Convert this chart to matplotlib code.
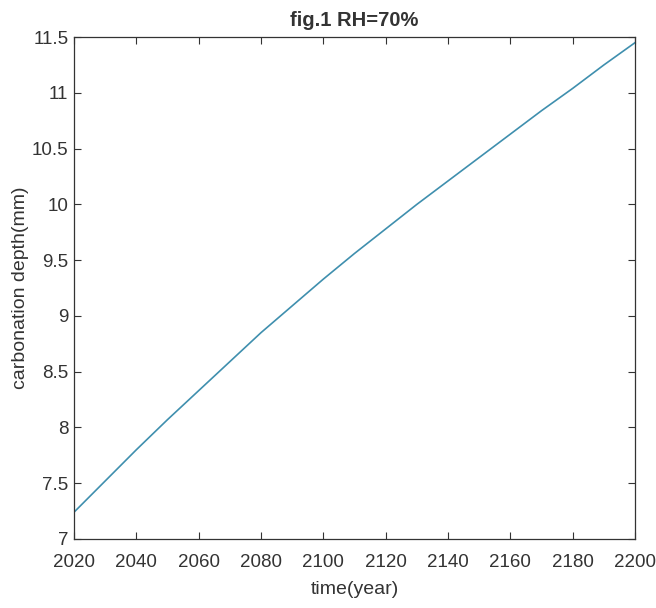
import matplotlib
matplotlib.use('Agg')
import matplotlib.pyplot as plt

# values
years = [2020, 2030, 2040, 2050, 2060, 2070, 2080, 2090, 2100, 2110,
         2120, 2130, 2140, 2150, 2160, 2170, 2180, 2190, 2200]
depth = [7.24, 7.52, 7.80, 8.07, 8.33, 8.59, 8.85, 9.09, 9.33, 9.56,
         9.78, 10.00, 10.21, 10.42, 10.63, 10.84, 11.04, 11.25, 11.45]

x_ticks = list(range(2020, 2201, 20))
y_ticks = [7, 7.5, 8, 8.5, 9, 9.5, 10, 10.5, 11, 11.5]
y_labels = ['7', '7.5', '8', '8.5', '9', '9.5', '10', '10.5', '11', '11.5']

plt.rcParams['font.family'] = ['Liberation Sans', 'DejaVu Sans']
txt = '#333333'

fig = plt.figure(figsize=(6.56, 6.08), dpi=100)
ax = fig.add_axes([0.1128, 0.1135, 0.8552, 0.8255])

ax.plot(years, depth, color='#3f8fae', linewidth=1.2)

ax.set_xlim(2020, 2200)
ax.set_ylim(7, 11.5)
ax.set_xticks(x_ticks)
ax.set_yticks(y_ticks)
ax.set_yticklabels(y_labels)

ax.tick_params(direction='in', top=True, right=True, length=5, width=0.8,
               labelsize=13.5, colors=txt)
ax.tick_params(axis='x', pad=11)
ax.tick_params(axis='y', pad=4)
for s in ax.spines.values():
    s.set_color(txt)
    s.set_linewidth(0.9)

ax.set_title('fig.1 RH=70%', fontsize=14.5, fontweight='bold', color=txt, pad=8)
ax.set_xlabel('time(year)', fontsize=14, color=txt, labelpad=7)
ax.set_ylabel('carbonation depth(mm)', fontsize=14, color=txt, labelpad=2)

fig.savefig('out.png', dpi=100)
